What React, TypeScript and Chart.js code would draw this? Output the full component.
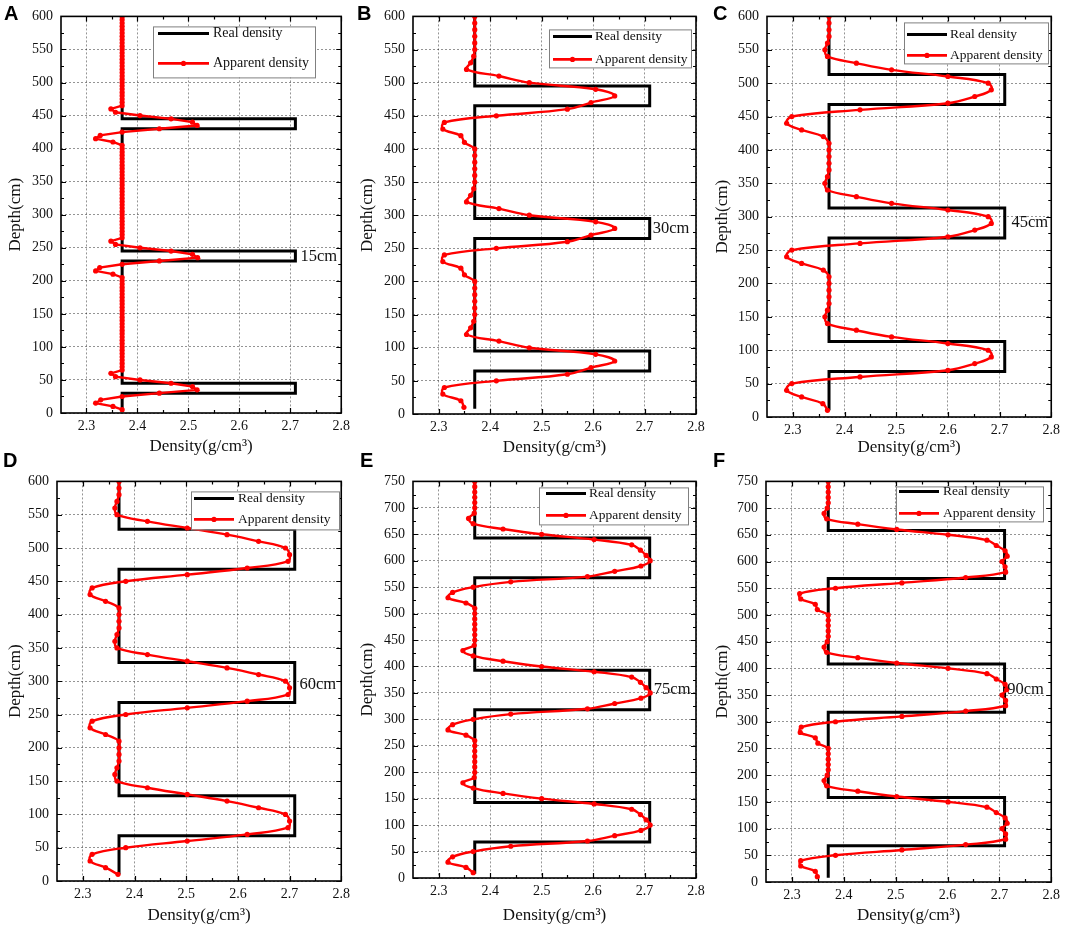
import { useEffect, useRef } from 'react';
import { Chart, registerables } from 'chart.js';

Chart.register(...registerables);

const SERIF = "'Liberation Serif', 'Times New Roman', serif";
const RED = '#ff0000';

// x ticks shared by every panel
const X_TICKS = [2.3, 2.4, 2.5, 2.6, 2.7, 2.8];

// real density steps (same for all panels, paired with the *_REAL_DEPTH arrays)
const STEP_DENSITY = [2.37, 2.37, 2.71, 2.71, 2.37, 2.37, 2.71, 2.71, 2.37, 2.37, 2.71, 2.71, 2.37, 2.37];

const A_REAL_DEPTH = [5, 30, 30, 45, 45, 230, 230, 245, 245, 430, 430, 445, 445, 600];
const B_REAL_DEPTH = [8, 65, 65, 95, 95, 265, 265, 295, 295, 465, 465, 495, 495, 600];
const C_REAL_DEPTH = [10, 68, 68, 113, 113, 268, 268, 313, 313, 468, 468, 513, 513, 600];
const D_REAL_DEPTH = [10, 68, 68, 128, 128, 268, 268, 328, 328, 468, 468, 528, 528, 600];
const E_REAL_DEPTH = [8, 68, 68, 143, 143, 318, 318, 393, 393, 568, 568, 643, 643, 750];
const F_REAL_DEPTH = [8, 68, 68, 158, 158, 318, 318, 408, 408, 568, 568, 658, 658, 750];

// sample depths of the apparent density curves
const A_DEPTH = [
  5, 10, 15, 20, 25, 30, 35, 40, 45, 50, 55, 60, 65, 70, 75, 80, 85, 90, 95, 100,
  105, 110, 115, 120, 125, 130, 135, 140, 145, 150, 155, 160, 165, 170, 175, 180, 185, 190, 195, 200,
  205, 210, 215, 220, 225, 230, 235, 240, 245, 250, 255, 260, 265, 270, 275, 280, 285, 290, 295, 300,
  305, 310, 315, 320, 325, 330, 335, 340, 345, 350, 355, 360, 365, 370, 375, 380, 385, 390, 395, 400,
  405, 410, 415, 420, 425, 430, 435, 440, 445, 450, 455, 460, 465, 470, 475, 480, 485, 490, 495, 500,
  505, 510, 515, 520, 525, 530, 535, 540, 545, 550, 555, 560, 565, 570, 575, 580, 585, 590, 595, 600,
];
const DEPTH_600 = [
  10, 20, 30, 40, 50, 60, 70, 80, 90, 100,
  110, 120, 130, 140, 150, 160, 170, 180, 190, 200,
  210, 220, 230, 240, 250, 260, 270, 280, 290, 300,
  310, 320, 330, 340, 350, 360, 370, 380, 390, 400,
  410, 420, 430, 440, 450, 460, 470, 480, 490, 500,
  510, 520, 530, 540, 550, 560, 570, 580, 590, 600,
];
const DEPTH_750 = [
  10, 20, 30, 40, 50, 60, 70, 80, 90, 100,
  110, 120, 130, 140, 150, 160, 170, 180, 190, 200,
  210, 220, 230, 240, 250, 260, 270, 280, 290, 300,
  310, 320, 330, 340, 350, 360, 370, 380, 390, 400,
  410, 420, 430, 440, 450, 460, 470, 480, 490, 500,
  510, 520, 530, 540, 550, 560, 570, 580, 590, 600,
  610, 620, 630, 640, 650, 660, 670, 680, 690, 700,
  710, 720, 730, 740, 750,
];

const A_DENSITY = [
  2.37, 2.352, 2.318, 2.328, 2.37, 2.443, 2.517, 2.508, 2.466, 2.405, 2.357, 2.348, 2.37, 2.37, 2.37, 2.37, 2.37, 2.37, 2.37, 2.37,
  2.37, 2.37, 2.37, 2.37, 2.37, 2.37, 2.37, 2.37, 2.37, 2.37, 2.37, 2.37, 2.37, 2.37, 2.37, 2.37, 2.37, 2.37, 2.37, 2.37,
  2.37, 2.352, 2.318, 2.326, 2.37, 2.443, 2.518, 2.508, 2.466, 2.405, 2.357, 2.348, 2.37, 2.37, 2.37, 2.37, 2.37, 2.37, 2.37, 2.37,
  2.37, 2.37, 2.37, 2.37, 2.37, 2.37, 2.37, 2.37, 2.37, 2.37, 2.37, 2.37, 2.37, 2.37, 2.37, 2.37, 2.37, 2.37, 2.37, 2.37,
  2.37, 2.352, 2.318, 2.327, 2.37, 2.443, 2.517, 2.508, 2.466, 2.405, 2.357, 2.348, 2.37, 2.37, 2.37, 2.37, 2.37, 2.37, 2.37, 2.37,
  2.37, 2.37, 2.37, 2.37, 2.37, 2.37, 2.37, 2.37, 2.37, 2.37, 2.37, 2.37, 2.37, 2.37, 2.37, 2.37, 2.37, 2.37, 2.37, 2.37,
];
const B_DENSITY = [
  2.349, 2.343, 2.308, 2.311, 2.412, 2.55, 2.596, 2.642, 2.605, 2.476,
  2.417, 2.354, 2.362, 2.368, 2.37, 2.37, 2.37, 2.37, 2.37, 2.37,
  2.35, 2.343, 2.308, 2.311, 2.412, 2.55, 2.596, 2.642, 2.605, 2.476,
  2.417, 2.354, 2.362, 2.368, 2.37, 2.37, 2.37, 2.37, 2.37, 2.37,
  2.35, 2.343, 2.308, 2.311, 2.412, 2.55, 2.596, 2.642, 2.605, 2.476,
  2.417, 2.354, 2.362, 2.368, 2.37, 2.37, 2.37, 2.37, 2.37, 2.37,
];
const C_DENSITY = [
  2.367, 2.358, 2.317, 2.288, 2.298, 2.43, 2.6, 2.652, 2.684, 2.678,
  2.6, 2.491, 2.423, 2.367, 2.362, 2.367, 2.37, 2.37, 2.37, 2.37,
  2.37, 2.359, 2.317, 2.288, 2.298, 2.43, 2.6, 2.652, 2.684, 2.678,
  2.6, 2.491, 2.423, 2.367, 2.362, 2.367, 2.37, 2.37, 2.37, 2.37,
  2.37, 2.359, 2.317, 2.288, 2.298, 2.43, 2.6, 2.652, 2.684, 2.678,
  2.6, 2.491, 2.423, 2.367, 2.362, 2.367, 2.37, 2.37, 2.37, 2.37,
];
const D_DENSITY = [
  2.368, 2.344, 2.314, 2.318, 2.383, 2.502, 2.618, 2.697, 2.7, 2.692,
  2.64, 2.579, 2.502, 2.425, 2.366, 2.362, 2.366, 2.37, 2.37, 2.37,
  2.37, 2.344, 2.314, 2.318, 2.383, 2.502, 2.618, 2.697, 2.7, 2.692,
  2.64, 2.579, 2.502, 2.425, 2.366, 2.362, 2.366, 2.37, 2.37, 2.37,
  2.37, 2.344, 2.314, 2.318, 2.383, 2.502, 2.618, 2.697, 2.7, 2.692,
  2.64, 2.579, 2.502, 2.425, 2.366, 2.362, 2.366, 2.37, 2.37, 2.37,
];
const E_DENSITY = [
  2.367, 2.353, 2.318, 2.327, 2.367, 2.44, 2.589, 2.642, 2.693, 2.711,
  2.703, 2.692, 2.675, 2.602, 2.5, 2.425, 2.367, 2.347, 2.369, 2.37,
  2.37, 2.37, 2.37, 2.37, 2.37, 2.37, 2.353, 2.318, 2.327, 2.367,
  2.44, 2.589, 2.642, 2.693, 2.711, 2.703, 2.692, 2.675, 2.602, 2.5,
  2.425, 2.367, 2.347, 2.369, 2.37, 2.37, 2.37, 2.37, 2.37, 2.37,
  2.37, 2.353, 2.318, 2.327, 2.367, 2.44, 2.589, 2.642, 2.693, 2.711,
  2.703, 2.692, 2.675, 2.602, 2.5, 2.425, 2.367, 2.358, 2.369, 2.37,
  2.37, 2.37, 2.37, 2.37, 2.37,
];
const F_DENSITY = [
  2.349, 2.345, 2.317, 2.317, 2.384, 2.512, 2.635, 2.712, 2.712, 2.705,
  2.715, 2.711, 2.694, 2.676, 2.601, 2.502, 2.427, 2.367, 2.362, 2.368,
  2.37, 2.37, 2.37, 2.37, 2.37, 2.35, 2.345, 2.316, 2.318, 2.384,
  2.512, 2.635, 2.712, 2.712, 2.705, 2.714, 2.711, 2.694, 2.676, 2.601,
  2.502, 2.427, 2.367, 2.362, 2.368, 2.37, 2.37, 2.37, 2.37, 2.37,
  2.349, 2.345, 2.317, 2.315, 2.384, 2.512, 2.635, 2.712, 2.711, 2.705,
  2.715, 2.711, 2.694, 2.676, 2.601, 2.502, 2.427, 2.367, 2.362, 2.368,
  2.37, 2.37, 2.37, 2.37, 2.37,
];

interface LegendBox { x: number; y: number; w: number; h: number; r1: number; r2: number; l0: number; l1: number; tx: number; size: number }
interface PanelSpec {
  letter: string; letterAt: [number, number];
  box: [number, number, number, number]; // left, top, width, height of the canvas
  yw: number; xh: number; padTop: number; padRight: number; xTitlePad: number; yTitlePad: number;
  yMax: number; tension: number;
  realDepth: number[]; depth: number[]; density: number[];
  note: { text: string; x: number; y: number };
  legend: LegendBox;
}

const PANELS: PanelSpec[] = [
  {
    letter: 'A', letterAt: [4, 3], box: [0, 0, 355, 462], yw: 61, xh: 49, padTop: 14, padRight: 12, xTitlePad: 5, yTitlePad: 5,
    yMax: 600, tension: 0, realDepth: A_REAL_DEPTH, depth: A_DEPTH, density: A_DENSITY,
    note: { text: '15cm', x: 2.72, y: 237 },
    legend: { x: 92, y: 10, w: 162, h: 51, r1: 7, r2: 37, l0: 5, l1: 56, tx: 60, size: 14 },
  },
  {
    letter: 'B', letterAt: [357, 3], box: [355, 0, 355, 462], yw: 58, xh: 48, padTop: 14, padRight: 14, xTitlePad: 4, yTitlePad: 2,
    yMax: 600, tension: 0.4, realDepth: B_REAL_DEPTH, depth: DEPTH_600, density: B_DENSITY,
    note: { text: '30cm', x: 2.716, y: 280 },
    legend: { x: 136, y: 13, w: 142, h: 38, r1: 7, r2: 30, l0: 4, l1: 43, tx: 46, size: 13.5 },
  },
  {
    letter: 'C', letterAt: [713, 3], box: [710, 0, 355, 462], yw: 57, xh: 45, padTop: 14, padRight: 13, xTitlePad: 4, yTitlePad: 2,
    yMax: 600, tension: 0.4, realDepth: C_REAL_DEPTH, depth: DEPTH_600, density: C_DENSITY,
    note: { text: '45cm', x: 2.723, y: 291 },
    legend: { x: 137, y: 6, w: 144, h: 41, r1: 12, r2: 33, l0: 3, l1: 43, tx: 46, size: 13.5 },
  },
  {
    letter: 'D', letterAt: [3, 450], box: [0, 465, 355, 462], yw: 57, xh: 46, padTop: 14, padRight: 13, xTitlePad: 1, yTitlePad: 5,
    yMax: 600, tension: 0.4, realDepth: D_REAL_DEPTH, depth: DEPTH_600, density: D_DENSITY,
    note: { text: '60cm', x: 2.719, y: 295 },
    legend: { x: 134, y: 10, w: 148, h: 38, r1: 7, r2: 28, l0: 3, l1: 43, tx: 47, size: 13.5 },
  },
  {
    letter: 'E', letterAt: [360, 450], box: [355, 465, 355, 462], yw: 58, xh: 49, padTop: 14, padRight: 14, xTitlePad: 1, yTitlePad: 2,
    yMax: 750, tension: 0.4, realDepth: E_REAL_DEPTH, depth: DEPTH_750, density: E_DENSITY,
    note: { text: '75cm', x: 2.718, y: 357 },
    legend: { x: 126, y: 6, w: 149, h: 37, r1: 6, r2: 28, l0: 7, l1: 47, tx: 50, size: 13.5 },
  },
  {
    letter: 'F', letterAt: [713, 450], box: [710, 465, 355, 462], yw: 56, xh: 45, padTop: 14, padRight: 13, xTitlePad: 1, yTitlePad: 2,
    yMax: 750, tension: 0.4, realDepth: F_REAL_DEPTH, depth: DEPTH_750, density: F_DENSITY,
    note: { text: '90cm', x: 2.715, y: 360 },
    legend: { x: 130, y: 5, w: 147, h: 35, r1: 5, r2: 27, l0: 3, l1: 43, tx: 47, size: 13.5 },
  },
];

// Origin-style frame: box, inward major/minor ticks on all sides, inset legend, thickness note
const framePlugin = {
  id: 'originFrame',
  afterDatasetsDraw(chart: any, _args: any, opts: any) {
    const { ctx, chartArea: a, scales } = chart;
    const sx = scales.x;
    const sy = scales.y;
    const mids = (v: number[]) => v.slice(1).map((t, i) => (t + v[i]) / 2);
    const xv = sx.ticks.map((t: any) => t.value);
    const yv = sy.ticks.map((t: any) => t.value);

    ctx.save();
    ctx.strokeStyle = '#000';
    ctx.lineWidth = 1.2;
    ctx.beginPath();
    const xt = (vals: number[], len: number) => vals.forEach((v) => {
      const px = Math.round(sx.getPixelForValue(v)) + 0.5;
      ctx.moveTo(px, a.bottom); ctx.lineTo(px, a.bottom - len);
      ctx.moveTo(px, a.top); ctx.lineTo(px, a.top + len);
    });
    const yt = (vals: number[], len: number) => vals.forEach((v) => {
      const py = Math.round(sy.getPixelForValue(v)) + 0.5;
      ctx.moveTo(a.left, py); ctx.lineTo(a.left + len, py);
      ctx.moveTo(a.right, py); ctx.lineTo(a.right - len, py);
    });
    xt(xv, 5); xt(mids(xv), 3);
    yt(yv, 5); yt(mids(yv), 3);
    ctx.stroke();

    ctx.lineWidth = 1.6;
    ctx.strokeRect(a.left, a.top, a.right - a.left, a.bottom - a.top);

    // legend
    const lg: LegendBox = opts.legend;
    const bx = a.left + lg.x;
    const by = a.top + lg.y;
    ctx.fillStyle = '#fff';
    ctx.fillRect(bx, by, lg.w, lg.h);
    ctx.strokeStyle = '#808080';
    ctx.lineWidth = 1;
    ctx.strokeRect(bx + 0.5, by + 0.5, lg.w, lg.h);

    ctx.strokeStyle = '#000';
    ctx.lineWidth = 3;
    ctx.beginPath(); ctx.moveTo(bx + lg.l0, by + lg.r1); ctx.lineTo(bx + lg.l1, by + lg.r1); ctx.stroke();
    ctx.strokeStyle = RED;
    ctx.lineWidth = 2.6;
    ctx.beginPath(); ctx.moveTo(bx + lg.l0, by + lg.r2); ctx.lineTo(bx + lg.l1, by + lg.r2); ctx.stroke();
    ctx.fillStyle = RED;
    ctx.beginPath(); ctx.arc(bx + (lg.l0 + lg.l1) / 2, by + lg.r2, 2.6, 0, Math.PI * 2); ctx.fill();

    const names = chart.data.datasets.map((d: any) => d.label);
    ctx.fillStyle = '#111';
    ctx.font = `${lg.size}px ${SERIF}`;
    ctx.textAlign = 'left';
    ctx.textBaseline = 'middle';
    ctx.fillText(names[1], bx + lg.tx, by + lg.r1);
    ctx.fillText(names[0], bx + lg.tx, by + lg.r2);

    // layer thickness note
    const n = opts.note;
    ctx.font = `16.5px ${SERIF}`;
    ctx.fillText(n.text, sx.getPixelForValue(n.x), sy.getPixelForValue(n.y));
    ctx.restore();
  },
};

function DensityPanel({ p }: { p: PanelSpec }) {
  const canvasRef = useRef<HTMLCanvasElement>(null);

  useEffect(() => {
    if (!canvasRef.current) return;
    const tickFont = { family: SERIF, size: 14 };
    const chart = new Chart(canvasRef.current, {
      type: 'line',
      data: {
        datasets: [
          {
            label: 'Apparent density',
            data: p.depth.map((d, i) => ({ x: p.density[i], y: d })),
            borderColor: RED,
            backgroundColor: RED,
            borderWidth: 2.4,
            pointRadius: 2.6,
            pointBorderWidth: 0,
            pointBackgroundColor: RED,
            tension: p.tension,
            order: 0,
          },
          {
            label: 'Real density',
            data: p.realDepth.map((d, i) => ({ x: STEP_DENSITY[i], y: d })),
            borderColor: '#000',
            borderWidth: 3,
            pointRadius: 0,
            tension: 0,
            order: 1,
          },
        ],
      },
      options: {
        animation: false,
        responsive: true,
        maintainAspectRatio: false,
        layout: { padding: { top: p.padTop, right: p.padRight, left: 0, bottom: 0 } },
        plugins: {
          legend: { display: false },
          tooltip: { enabled: false },
          // @ts-ignore custom plugin options
          originFrame: { legend: p.legend, note: p.note },
        },
        scales: {
          x: {
            type: 'linear',
            min: 2.25,
            max: 2.8,
            afterBuildTicks: (s: any) => { s.ticks = X_TICKS.map((v) => ({ value: v })); },
            afterFit: (s: any) => { s.height = p.xh; },
            ticks: { color: '#111', font: tickFont, padding: 5, maxRotation: 0, callback: (v: any) => Number(v).toFixed(1) },
            grid: { color: 'rgba(0,0,0,0.42)', lineWidth: 1, drawTicks: false },
            border: { display: false, dash: [2, 2] },
            title: {
              display: true,
              text: 'Density(g/cm³)',
              color: '#111',
              font: { family: SERIF, size: 17 },
              padding: { top: 0, bottom: p.xTitlePad },
            },
          },
          y: {
            type: 'linear',
            min: 0,
            max: p.yMax,
            afterFit: (s: any) => { s.width = p.yw; },
            ticks: { stepSize: 50, color: '#111', font: tickFont, padding: 8 },
            grid: { color: 'rgba(0,0,0,0.42)', lineWidth: 1, drawTicks: false },
            border: { display: false, dash: [2, 2] },
            title: {
              display: true,
              text: 'Depth(cm)',
              color: '#111',
              font: { family: SERIF, size: 17 },
              padding: { top: p.yTitlePad, bottom: 0 },
            },
          },
        },
      },
      plugins: [framePlugin],
    });
    return () => chart.destroy();
  }, [p]);

  const [left, top, width, height] = p.box;
  return (
    <div style={{ position: 'absolute', left, top, width, height }}>
      <canvas ref={canvasRef} />
    </div>
  );
}

export default function App() {
  useEffect(() => {
    document.body.style.margin = '0';
  }, []);

  return (
    <div style={{ position: 'relative', width: 1065, height: 929, background: '#fff' }}>
      {PANELS.map((p) => (
        <DensityPanel key={p.letter} p={p} />
      ))}
      {PANELS.map((p) => (
        <div
          key={`l-${p.letter}`}
          style={{
            position: 'absolute',
            left: p.letterAt[0],
            top: p.letterAt[1],
            font: "bold 20px 'Liberation Sans', Arial, sans-serif",
            lineHeight: '20px',
            color: '#000',
          }}
        >
          {p.letter}
        </div>
      ))}
    </div>
  );
}
